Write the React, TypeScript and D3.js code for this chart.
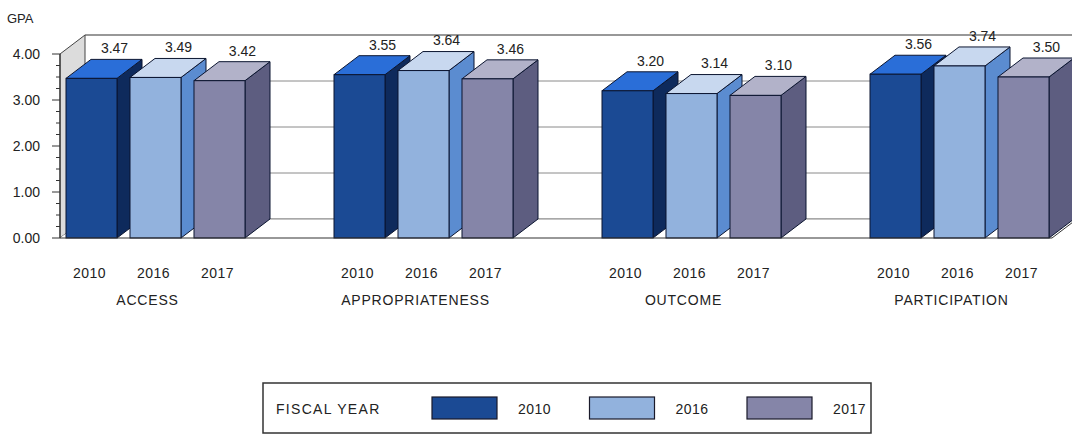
import React from "react";
import * as d3 from "d3";

const categories = ["ACCESS", "APPROPRIATENESS", "OUTCOME", "PARTICIPATION"];
const years = ["2010", "2016", "2017"];
const values2010 = [3.47, 3.55, 3.2, 3.56];
const values2016 = [3.49, 3.64, 3.14, 3.74];
const values2017 = [3.42, 3.46, 3.1, 3.5];
const yTicks = [0, 1, 2, 3, 4];
const legendTitle = "FISCAL YEAR";
const axisTitle = "GPA";

const seriesValues = [values2010, values2016, values2017];
const colors = [
  { front: "#1b4a94", top: "#2a6ed8", side: "#0e2a5c" },
  { front: "#92b2dd", top: "#c8d8ef", side: "#5b8cd0" },
  { front: "#8585a8", top: "#b2b2c9", side: "#5d5d80" },
];

const W = 1072;
const H = 435;
const DX = 25;
const DY = 19;
const FONT = "'Liberation Sans', Arial, sans-serif";

export default function App() {
  const y = d3.scaleLinear().domain([0, 4]).range([238, 54]);
  const gx = d3.scaleLinear().domain([0, categories.length - 1]).range([66, 870]);
  const bx = d3.scaleBand<string>().domain(years).range([0, 179]).paddingInner(0.203).paddingOuter(0);
  const bw = bx.bandwidth();
  const y0 = y(0);
  const y4 = y(4);
  const axisX = 60;
  const rightFront = 1052;

  const minorTicks = d3.range(0, 4.001, 0.25);
  const fmt = d3.format(".2f");

  const pts = (arr: number[][]) => arr.map((p) => p.join(",")).join(" ");

  return (
    <svg
      width={W}
      height={H}
      style={{ position: "absolute", left: 0, top: 0, background: "#fff" }}
      fontFamily={FONT}
    >
      {/* back wall */}
      <rect x={axisX + DX} y={y4 - DY} width={W} height={y0 - y4} fill="#fff" />
      {yTicks.map((t) => (
        <line
          key={"g" + t}
          x1={axisX + DX}
          x2={W + 10}
          y1={y(t) - DY}
          y2={y(t) - DY}
          stroke={t === 4 ? "#333" : "#8a8a8a"}
          strokeWidth={t === 4 ? 1.2 : 1}
        />
      ))}
      {/* left side wall */}
      <polygon
        points={pts([
          [axisX, y4],
          [axisX + DX, y4 - DY],
          [axisX + DX, y0 - DY],
          [axisX, y0],
        ])}
        fill="#dcdcdc"
        stroke="#444"
        strokeWidth={1}
      />
      {/* floor */}
      <polygon
        points={pts([
          [axisX, y0],
          [axisX + DX, y0 - DY],
          [rightFront + DX + 30, y0 - DY],
          [rightFront, y0],
        ])}
        fill="#fff"
      />
      <line x1={axisX + DX} x2={W + 10} y1={y0 - DY} y2={y0 - DY} stroke="#8a8a8a" />

      {/* bars */}
      {categories.map((c, ci) =>
        years.map((yr, si) => {
          const v = seriesValues[si][ci];
          const x0 = gx(ci) + (bx(yr) as number);
          const x1 = x0 + bw;
          const yt = y(v);
          const col = colors[si];
          return (
            <g key={c + yr}>
              <polygon
                points={pts([
                  [x1, yt],
                  [x1 + DX, yt - DY],
                  [x1 + DX, y0 - DY],
                  [x1, y0],
                ])}
                fill={col.side}
                stroke="#0b1530"
                strokeWidth={1}
              />
              <polygon
                points={pts([
                  [x0, yt],
                  [x0 + DX, yt - DY],
                  [x1 + DX, yt - DY],
                  [x1, yt],
                ])}
                fill={col.top}
                stroke="#0b1530"
                strokeWidth={1}
              />
              <rect x={x0} y={yt} width={bw} height={y0 - yt} fill={col.front} stroke="#0b1530" strokeWidth={1} />
            </g>
          );
        })
      )}

      {/* front floor line */}
      <line x1={axisX} x2={rightFront} y1={y0} y2={y0} stroke="#333" strokeWidth={1.2} />
      <line x1={rightFront} x2={rightFront + DX} y1={y0} y2={y0 - DY} stroke="#333" strokeWidth={1} />

      {/* value labels */}
      {categories.map((c, ci) =>
        years.map((yr, si) => {
          const v = seriesValues[si][ci];
          const x0 = gx(ci) + (bx(yr) as number);
          return (
            <text
              key={"v" + c + yr}
              x={x0 + bw / 2 + 23}
              y={y(v) - DY - 11}
              dy="0.35em"
              textAnchor="middle"
              fontSize={14}
              fill="#222"
            >
              {fmt(v)}
            </text>
          );
        })
      )}

      {/* y axis */}
      <line x1={axisX} x2={axisX} y1={y4} y2={y0} stroke="#333" strokeWidth={1.2} />
      {minorTicks.map((t) => {
        const major = Math.abs(t - Math.round(t)) < 1e-6;
        return (
          <line
            key={"t" + t}
            x1={axisX - (major ? 8 : 4)}
            x2={axisX}
            y1={y(t)}
            y2={y(t)}
            stroke="#333"
            strokeWidth={1}
          />
        );
      })}
      {yTicks.map((t) => (
        <text key={"yl" + t} x={40} y={y(t)} dy="0.35em" textAnchor="end" fontSize={14} fill="#222">
          {fmt(t)}
        </text>
      ))}
      <text x={7} y={18} dy="0.35em" fontSize={13} fill="#222">
        {axisTitle}
      </text>

      {/* x labels */}
      {categories.map((c, ci) => (
        <g key={"xl" + c}>
          {years.map((yr) => (
            <text
              key={yr}
              x={gx(ci) + (bx(yr) as number) + bw / 2 - 2}
              y={273}
              dy="0.35em"
              textAnchor="middle"
              fontSize={14}
              letterSpacing={0.5}
              fill="#222"
            >
              {yr}
            </text>
          ))}
          <text
            x={gx(ci) + 179 / 2 - 8}
            y={300}
            dy="0.35em"
            textAnchor="middle"
            fontSize={14}
            letterSpacing={0.8}
            fill="#222"
          >
            {c}
          </text>
        </g>
      ))}

      {/* legend */}
      <rect x={263} y={383} width={608} height={50} fill="#fff" stroke="#333" strokeWidth={1.5} />
      <text x={276} y={409} dy="0.35em" fontSize={14} letterSpacing={1.3} fill="#222">
        {legendTitle}
      </text>
      {years.map((yr, si) => {
        const lx = 432 + si * 157.5;
        return (
          <g key={"lg" + yr}>
            <rect x={lx} y={397} width={65} height={22} fill={colors[si].front} stroke="#1a1a2a" strokeWidth={1.2} />
            <text x={lx + 86} y={409} dy="0.35em" fontSize={14} letterSpacing={0.5} fill="#222">
              {yr}
            </text>
          </g>
        );
      })}
    </svg>
  );
}
